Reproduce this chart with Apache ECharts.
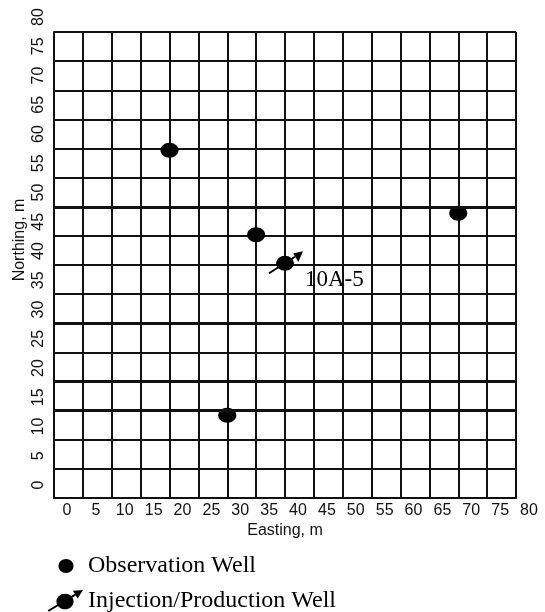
<!DOCTYPE html>
<html>
<head>
<meta charset="utf-8">
<script src="https://cdn.jsdelivr.net/npm/echarts@6/dist/echarts.min.js"></script>
<style>
  html, body { margin: 0; padding: 0; background: #fff; }
  #chart { width: 545px; height: 612px; }
</style>
</head>
<body>
<div id="chart"></div>
<script>
// well positions on the site grid, m
const obsEasting = [20, 35, 30, 70];
const obsNorthing = [59.7, 45.2, 14.2, 48.9];
const injEasting = [40];
const injNorthing = [40.3];
const injNames = ['10A-5'];
// tick labels on both axes
const tickValues = [0, 5, 10, 15, 20, 25, 30, 35, 40, 45, 50, 55, 60, 65, 70, 75, 80];
// grid rows drawn heavier in the original sheet
const heavyRows = [15, 20, 30, 50];
const legendNames = ['Observation Well', 'Injection/Production Well'];

// ellipse built from 4 cubic curves (clockwise)
function ellipsePath(cx, cy, rx, ry) {
  const kx = 0.5523 * rx, ky = 0.5523 * ry;
  return 'M' + (cx - rx) + ' ' + cy +
    'C' + (cx - rx) + ' ' + (cy - ky) + ' ' + (cx - kx) + ' ' + (cy - ry) + ' ' + cx + ' ' + (cy - ry) +
    'C' + (cx + kx) + ' ' + (cy - ry) + ' ' + (cx + rx) + ' ' + (cy - ky) + ' ' + (cx + rx) + ' ' + cy +
    'C' + (cx + rx) + ' ' + (cy + ky) + ' ' + (cx + kx) + ' ' + (cy + ry) + ' ' + cx + ' ' + (cy + ry) +
    'C' + (cx - kx) + ' ' + (cy + ry) + ' ' + (cx - rx) + ' ' + (cy + ky) + ' ' + (cx - rx) + ' ' + cy + 'Z';
}

const wellSymbol = 'path://' + ellipsePath(9, 7.5, 9, 7.5);
// legend icons, 36x22 box (corner moves keep the box size)
const obsIcon = 'path://M0 0M36 22' + ellipsePath(19, 11, 7.5, 7);
const injIcon = 'path://M0 0M36 22' + ellipsePath(18, 11.5, 8.6, 7.8) +
  'M0.68 20.15L27.78 3.85L28.82 5.55L1.72 21.85Z' +
  'M36 0L30.65 8.54L25.95 0.86Z';

const ink = '#111';
const sans = 'Liberation Sans';
const serif = 'Liberation Serif';

const chart = echarts.init(document.getElementById('chart'));

chart.setOption({
  animation: false,
  grid: [
    // the drawn sheet grid
    { left: 54, top: 32, width: 462, height: 466, show: false },
    // tick label frame (labels sit offset from the grid lines)
    { left: 67, top: 17, width: 462, height: 468, show: false }
  ],
  xAxis: [
    {
      gridIndex: 0,
      type: 'value',
      min: tickValues[0],
      max: tickValues[tickValues.length - 1],
      interval: 5,
      name: 'Easting, m',
      nameLocation: 'middle',
      nameGap: 25,
      nameTextStyle: { fontFamily: sans, fontSize: 16, color: ink },
      axisLine: { show: true, onZero: false, lineStyle: { color: ink, width: 2 } },
      axisTick: { show: false },
      axisLabel: { show: false },
      splitLine: { show: true, lineStyle: { color: ink, width: 2 } }
    },
    {
      gridIndex: 1,
      type: 'value',
      min: tickValues[0],
      max: tickValues[tickValues.length - 1],
      axisLine: { show: false },
      axisTick: { show: false },
      splitLine: { show: false },
      axisLabel: {
        customValues: tickValues,
        margin: 18,
        fontFamily: sans,
        fontSize: 16,
        color: ink
      }
    }
  ],
  yAxis: [
    {
      gridIndex: 0,
      type: 'value',
      min: tickValues[0],
      max: tickValues[tickValues.length - 1],
      interval: 5,
      name: 'Northing, m',
      nameLocation: 'middle',
      nameGap: 26,
      nameTextStyle: { fontFamily: sans, fontSize: 16, color: ink, padding: [0, 0, 0, 50] },
      axisLine: { show: true, onZero: false, lineStyle: { color: ink, width: 2 } },
      axisTick: { show: false },
      axisLabel: { show: false },
      splitLine: { show: true, lineStyle: { color: ink, width: 2 } }
    },
    {
      gridIndex: 1,
      type: 'value',
      min: tickValues[0],
      max: tickValues[tickValues.length - 1],
      axisLine: { show: false },
      axisTick: { show: false },
      splitLine: { show: false },
      axisLabel: {
        customValues: tickValues,
        rotate: 90,
        margin: 20,
        fontFamily: sans,
        fontSize: 16,
        color: ink
      }
    }
  ],
  legend: {
    orient: 'vertical',
    left: 47,
    top: 554,
    width: 400,
    height: 120,
    padding: 0,
    itemWidth: 36,
    itemHeight: 22,
    itemGap: 11,
    selectedMode: false,
    data: [
      { name: legendNames[0], icon: obsIcon },
      { name: legendNames[1], icon: injIcon }
    ],
    textStyle: { fontFamily: serif, fontSize: 24, color: '#000' }
  },
  series: [
    {
      name: legendNames[0],
      type: 'scatter',
      xAxisIndex: 0,
      yAxisIndex: 0,
      symbol: wellSymbol,
      symbolSize: [18, 15],
      itemStyle: { color: '#000', opacity: 1 },
      data: obsEasting.map((x, i) => [x, obsNorthing[i]]),
      markLine: {
        silent: true,
        symbol: 'none',
        label: { show: false },
        lineStyle: { color: ink, width: 3, type: 'solid' },
        data: heavyRows.map(v => ({ yAxis: v }))
      }
    },
    {
      name: legendNames[1],
      type: 'custom',
      xAxisIndex: 0,
      yAxisIndex: 0,
      itemStyle: { color: '#000' },
      data: injEasting.map((x, i) => [x, injNorthing[i]]),
      renderItem: function (params, api) {
        const p = api.coord([api.value(0), api.value(1)]);
        const x = p[0], y = p[1];
        return {
          type: 'group',
          children: [
            {
              type: 'line',
              shape: { x1: x - 16, y1: y + 10, x2: x + 10, y2: y - 6.5 },
              style: { stroke: '#000', lineWidth: 2 }
            },
            {
              type: 'polygon',
              shape: { points: [[x + 18, y - 12], [x + 8.3, y - 9.7], [x + 13.3, y - 1.3]] },
              style: { fill: '#000' }
            },
            {
              type: 'circle',
              x: x,
              y: y,
              scaleY: 15 / 18,
              shape: { cx: 0, cy: 0, r: 9 },
              style: { fill: '#000' }
            },
            {
              type: 'text',
              x: x + 20,
              y: y + 17,
              style: {
                text: injNames[params.dataIndex],
                fontFamily: serif,
                fontSize: 23,
                fill: '#000',
                align: 'left',
                verticalAlign: 'middle'
              }
            }
          ]
        };
      }
    }
  ]
});
</script>
</body>
</html>
